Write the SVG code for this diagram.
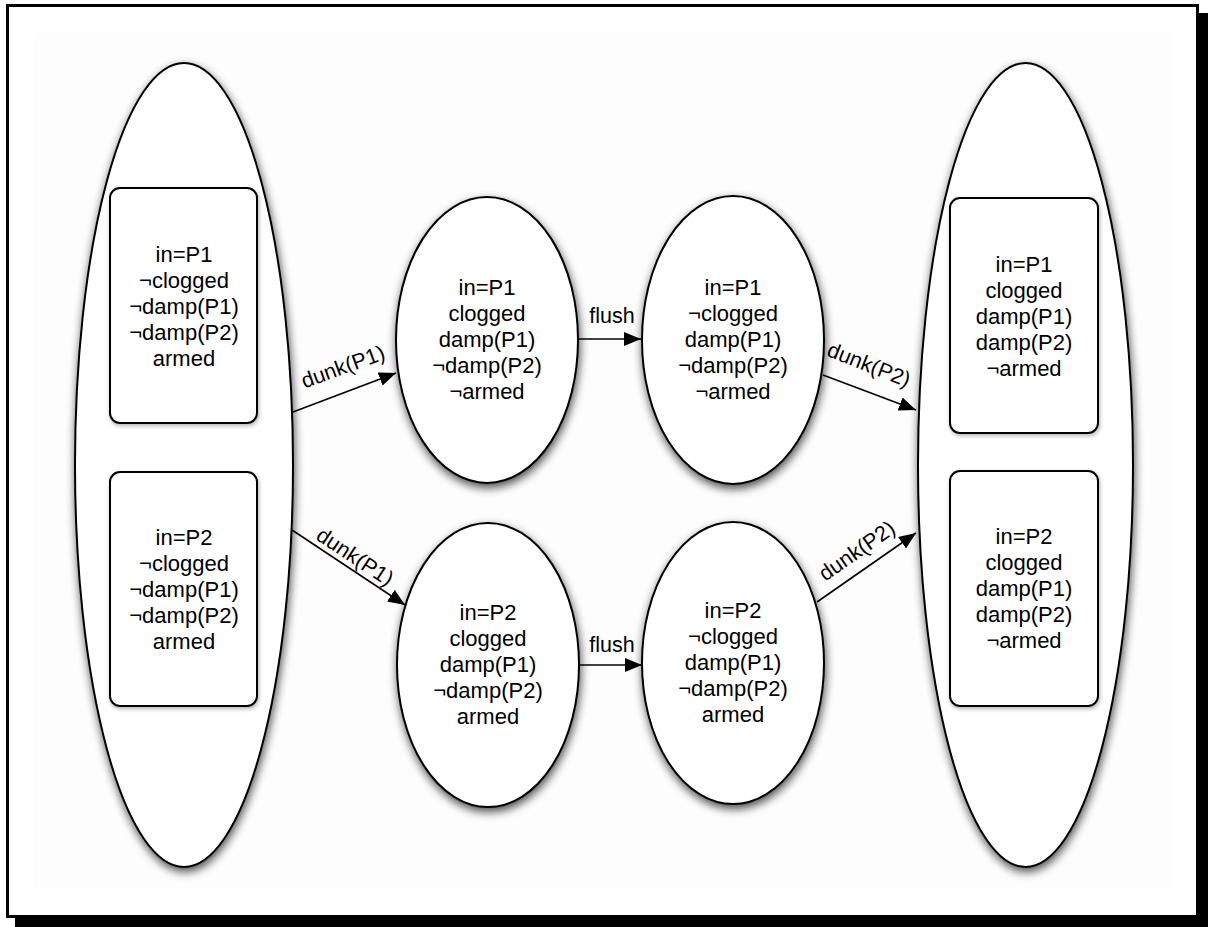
<svg xmlns="http://www.w3.org/2000/svg" width="1208" height="927" viewBox="0 0 1208 927">
<style>
.t{font-family:"Liberation Sans",Arial,sans-serif;font-size:22px;fill:#000;text-anchor:middle}
.l{font-family:"Liberation Sans",Arial,sans-serif;font-size:21.5px;fill:#000;text-anchor:middle}
.n{fill:#fff;stroke:#000;stroke-width:2}
.c{stroke:#000;stroke-width:1.6;fill:none;marker-end:url(#ah)}
</style>
<defs>
<filter id="sh" x="-20%" y="-20%" width="140%" height="140%">
<feGaussianBlur in="SourceAlpha" stdDeviation="5"/>
<feOffset dx="1" dy="4" result="b"/>
<feComponentTransfer><feFuncA type="linear" slope="0.7"/></feComponentTransfer>
<feMerge><feMergeNode/><feMergeNode in="SourceGraphic"/></feMerge>
</filter>
<filter id="sh2" x="-20%" y="-20%" width="140%" height="140%">
<feGaussianBlur in="SourceAlpha" stdDeviation="2"/>
<feOffset dx="1" dy="2" result="b"/>
<feComponentTransfer><feFuncA type="linear" slope="0.3"/></feComponentTransfer>
<feMerge><feMergeNode/><feMergeNode in="SourceGraphic"/></feMerge>
</filter>
<marker id="ah" markerWidth="18" markerHeight="14" refX="17" refY="7" orient="auto" markerUnits="userSpaceOnUse">
<path d="M0,0 L17,7 L0,14 z" fill="#000"/>
</marker>
</defs>
<rect x="15" y="13" width="1193" height="914" fill="#000"/>
<rect x="7.5" y="5.5" width="1190" height="911" fill="#fff" stroke="#000" stroke-width="3"/>
<rect x="35" y="33" width="1135" height="855" fill="#fdfdfd"/>

<g id="left-group">
<ellipse class="n" cx="184" cy="465" rx="109" ry="402" filter="url(#sh)"/>
</g>
<g id="right-group">
<ellipse class="n" cx="1025.5" cy="465" rx="107.5" ry="402" filter="url(#sh)"/>
</g>

<g id="box-l1">
<rect class="n" x="110" y="188" width="147" height="235" rx="10" filter="url(#sh2)"/>
<text class="t"><tspan x="184" y="262">in=P1</tspan><tspan x="184" y="288">¬clogged</tspan><tspan x="184" y="314">¬damp(P1)</tspan><tspan x="184" y="340">¬damp(P2)</tspan><tspan x="184" y="366">armed</tspan></text>
</g>
<g id="box-l2">
<rect class="n" x="110" y="472" width="147" height="234" rx="10" filter="url(#sh2)"/>
<text class="t"><tspan x="184" y="545">in=P2</tspan><tspan x="184" y="571">¬clogged</tspan><tspan x="184" y="597">¬damp(P1)</tspan><tspan x="184" y="623">¬damp(P2)</tspan><tspan x="184" y="649">armed</tspan></text>
</g>
<g id="box-r1">
<rect class="n" x="950" y="198" width="148" height="235" rx="10" filter="url(#sh2)"/>
<text class="t"><tspan x="1024" y="272">in=P1</tspan><tspan x="1024" y="298">clogged</tspan><tspan x="1024" y="324">damp(P1)</tspan><tspan x="1024" y="350">damp(P2)</tspan><tspan x="1024" y="376">¬armed</tspan></text>
</g>
<g id="box-r2">
<rect class="n" x="950" y="471" width="148" height="235" rx="10" filter="url(#sh2)"/>
<text class="t"><tspan x="1024" y="544">in=P2</tspan><tspan x="1024" y="570">clogged</tspan><tspan x="1024" y="596">damp(P1)</tspan><tspan x="1024" y="622">damp(P2)</tspan><tspan x="1024" y="648">¬armed</tspan></text>
</g>

<g id="s1">
<ellipse class="n" cx="487" cy="340" rx="91" ry="143" filter="url(#sh)"/>
<text class="t"><tspan x="487" y="295">in=P1</tspan><tspan x="487" y="321">clogged</tspan><tspan x="487" y="347">damp(P1)</tspan><tspan x="487" y="373">¬damp(P2)</tspan><tspan x="487" y="399">¬armed</tspan></text>
</g>
<g id="s2">
<ellipse class="n" cx="733" cy="340" rx="91" ry="144" filter="url(#sh)"/>
<text class="t"><tspan x="733" y="295">in=P1</tspan><tspan x="733" y="321">¬clogged</tspan><tspan x="733" y="347">damp(P1)</tspan><tspan x="733" y="373">¬damp(P2)</tspan><tspan x="733" y="399">¬armed</tspan></text>
</g>
<g id="s3">
<ellipse class="n" cx="488" cy="665" rx="91" ry="142" filter="url(#sh)"/>
<text class="t"><tspan x="488" y="620">in=P2</tspan><tspan x="488" y="646">clogged</tspan><tspan x="488" y="672">damp(P1)</tspan><tspan x="488" y="698">¬damp(P2)</tspan><tspan x="488" y="724">armed</tspan></text>
</g>
<g id="s4">
<ellipse class="n" cx="733" cy="663" rx="91" ry="141" filter="url(#sh)"/>
<text class="t"><tspan x="733" y="618">in=P2</tspan><tspan x="733" y="644">¬clogged</tspan><tspan x="733" y="670">damp(P1)</tspan><tspan x="733" y="696">¬damp(P2)</tspan><tspan x="733" y="722">armed</tspan></text>
</g>

<g id="connectors">
<line class="c" x1="293" y1="412" x2="396" y2="373"/>
<line class="c" x1="292" y1="530" x2="405" y2="605"/>
<line class="c" x1="578" y1="339" x2="641" y2="339"/>
<line class="c" x1="579" y1="665" x2="642" y2="665"/>
<line class="c" x1="823" y1="375" x2="916" y2="410"/>
<line class="c" x1="817" y1="602" x2="916" y2="533"/>
<text class="l" transform="translate(343,367) rotate(-20)" x="0" y="7">dunk(P1)</text>
<text class="l" transform="translate(355,557) rotate(33.5)" x="0" y="7">dunk(P1)</text>
<text class="l" x="612" y="323">flush</text>
<text class="l" x="612" y="652">flush</text>
<text class="l" transform="translate(869,365) rotate(21.5)" x="0" y="7">dunk(P2)</text>
<text class="l" transform="translate(857,551) rotate(-35)" x="0" y="7">dunk(P2)</text>
</g>
</svg>
